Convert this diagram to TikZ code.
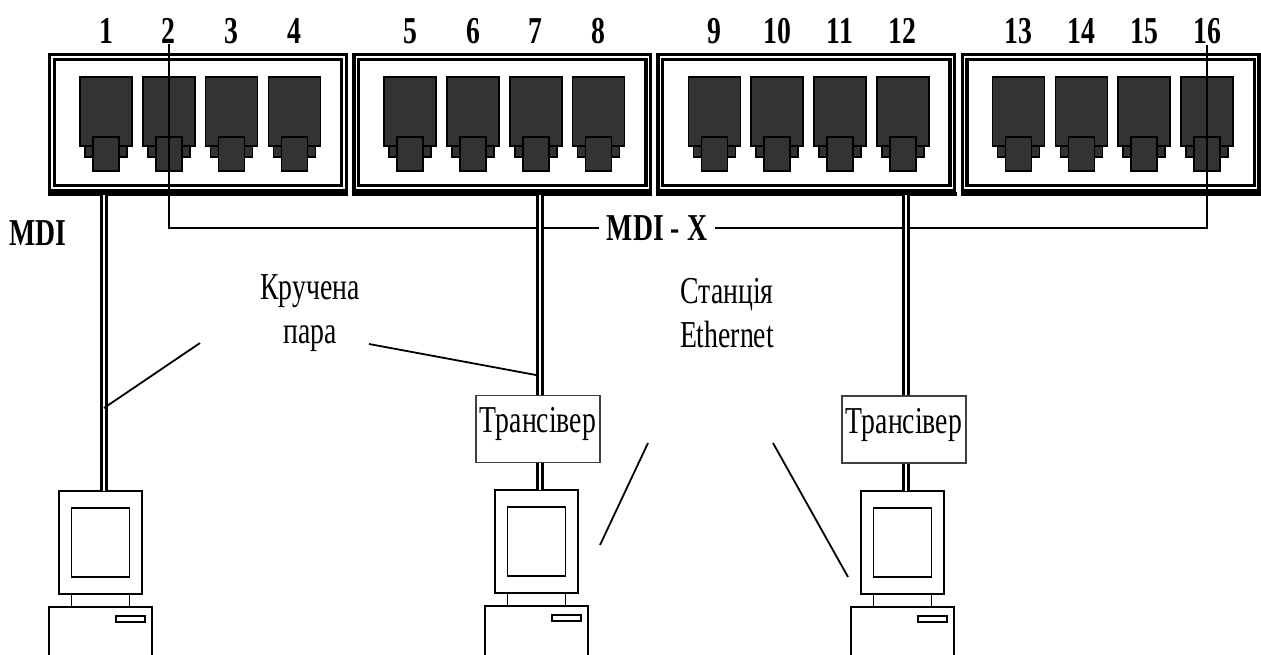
\documentclass[tikz,border=0pt]{standalone}
\usepackage{fontspec}
\setmainfont{Liberation Serif}[FakeStretch=0.73]
\newcommand\lblsize{\fontsize{38}{44}\selectfont}

\tikzset{pics/computer/.style={code={
    \draw[pcline] (-41.5,0) rectangle (41.5,103);
    \draw[pcline] (-29,17) rectangle (29,86);
    \draw[pcline] (-29,103) rectangle (29,116);
    \draw[pcline] (-51.5,170) -- (-51.5,116) -- (51.5,116) -- (51.5,170);
    \draw[pcline] (15.5,125) rectangle (44.5,131);
    \coordinate (-top) at (3.5,0);
}}}

\begin{document}
\begin{tikzpicture}[x=1pt,y=-1pt,
    font=\lblsize,
    module/.style={draw, line width=3.4pt, double=white, double distance=1.2pt,
        minimum width=292pt, minimum height=131pt, inner sep=0pt, outer sep=0pt,
        anchor=north west},
    jack/.style={fill=black!80, draw=black, line width=1.5pt},
    num/.style={font=\lblsize\bfseries, anchor=base, inner sep=1pt},
    link/.style={line width=1.5pt},
    cable/.style={line width=3.5pt, double=white, double distance=1.5pt},
    trx/.style={draw=black!75, line width=1.5pt, fill=white, minimum width=124pt,
        inner xsep=3pt, inner ysep=5pt, text height=32pt, text depth=25pt},
    pcline/.style={line width=1.6pt},
    callout/.style={line width=1.8pt},
    lbl/.style={align=center, anchor=base, inner sep=0pt}]

\path[use as bounding box, fill=white] (0,0) rectangle (1261,654);

\foreach \m in {0,...,3}{
    \node[module] (m\m) at (52+304.2*\m,57) {};
    \fill ([xshift=-4.1pt,yshift=-4.1pt]m\m.south west) rectangle ([xshift=4.1pt,yshift=-7.6pt]m\m.south east);
}

\foreach \k in {1,...,16}{
    \pgfmathsetmacro{\px}{80+304.2*int((\k-1)/4)+62.8*mod(\k-1,4)}
    \draw[jack] (\px,77) rectangle ++(52,69);
    \draw[jack] (\px+5,146) rectangle ++(42,11);
    \draw[jack] (\px+13,137) rectangle ++(26,34);
    \coordinate (p\k) at (\px+26,195);
    \node[num] (n\k) at (\px+26,43) {\k};
}

\node[num, anchor=center, inner xsep=8pt] (mdix) at (657,228) {MDI - X};
\draw[link] (n2.south -| p2) |- (mdix.west);
\draw[link] (mdix.east) -| (n16.south -| p16);
\node[num] (mdi) at (38,245) {MDI};

\node[trx] (tr1) at (538,429) {Трансівер};
\node[trx] (tr2) at (904,429.5) {Трансівер};

\pic (c1) at (100.5,491) {computer};
\pic (c2) at (536.5,490) {computer};
\pic (c3) at (902.5,491) {computer};

\draw[cable] (c1-top) -- (c1-top |- p1);
\draw[cable] (c2-top) -- (c2-top |- tr1.south);
\draw[cable] (c2-top |- tr1.north) -- (c2-top |- p7);
\draw[cable] (c3-top) -- (c3-top |- tr2.south);
\draw[cable] (c3-top |- tr2.north) -- (c3-top |- p12);

\node[lbl] (tp) at (310,343) {Кручена\\пара};
\node[lbl] (st) at (727,347) {Станція\\Ethernet};

\coordinate (tp1) at (200,343);
\coordinate (tp2) at (369,344);
\coordinate (st1) at (648,443);
\coordinate (st2) at (773,443);
\draw[callout] (tp1) -- (c1-top |- 0,408);
\draw[callout] (tp2) -- (536,375);
\draw[callout] (st1) -- (600,545);
\draw[callout] (st2) -- (848,577);
\end{tikzpicture}
\end{document}
